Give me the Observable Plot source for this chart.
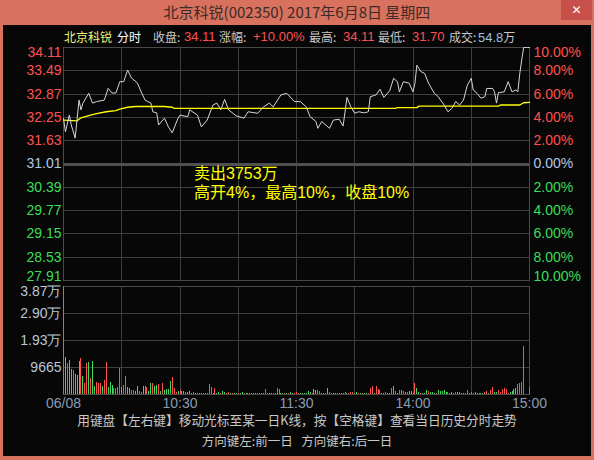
<!DOCTYPE html>
<html><head><meta charset="utf-8">
<script src="https://cdn.jsdelivr.net/npm/d3@7"></script>
<script src="https://cdn.jsdelivr.net/npm/@observablehq/plot@0.6"></script>
<style>
html,body{margin:0;padding:0;background:#d8715d;overflow:hidden}
#wrap{position:relative;width:594px;height:460px;background:#d8715d;overflow:hidden}
#black{position:absolute;left:3px;top:25px;width:588px;height:431px;background:#070707}
#charts svg{position:absolute;left:0;top:0}
.t{position:absolute;white-space:nowrap;line-height:16px;font-size:13px;font-family:"Liberation Sans","Noto Sans CJK SC",sans-serif}
.c{font-family:"Noto Sans CJK SC",sans-serif;font-size:12px}
.g{color:#c8c8c8}.r{color:#ff5050}
.a{font-family:"Liberation Sans","Noto Sans CJK SC",sans-serif;font-size:16px;line-height:19px;color:#ffff00;left:194px}
</style></head>
<body><div id="wrap">
<div id="black"></div>
<div id="charts"></div>
<div class="t c" style="left:0;width:594px;text-align:center;top:1px;font-size:15px;line-height:22px;color:#3b2a26">北京科锐(002350) 2017年6月8日 星期四</div>
<div class="t" style="left:561px;top:0;width:31px;height:20px;background:#c8504a;color:#fff;text-align:center;line-height:20px;font-family:'DejaVu Sans';font-size:12px">✕</div>
<div class="t c" style="left:64px;top:29px;color:#f0f07a">北京科锐</div>
<div class="t c" style="left:117px;top:29px;color:#ffffff">分时</div>
<div class="t c g" style="left:153px;top:29px">收盘:</div>
<div class="t r" style="left:184px;top:29px">34.11</div>
<div class="t c g" style="left:219px;top:29px">涨幅:</div>
<div class="t r" style="left:253px;top:29px">+10.00%</div>
<div class="t c g" style="left:309px;top:29px">最高:</div>
<div class="t r" style="left:343px;top:29px">34.11</div>
<div class="t c g" style="left:378px;top:29px">最低:</div>
<div class="t r" style="left:412px;top:29px">31.70</div>
<div class="t c g" style="left:449px;top:29px">成交:</div>
<div class="t" style="left:478px;top:29px;color:#9cc0e8">54.8<span class="c g">万</span></div>
<div class="t a" style="top:164px">卖出3753万</div>
<div class="t a" style="top:183px">高开4%，最高10%，收盘10%</div>
<div class="t c g" style="left:0;width:594px;text-align:center;top:412px;font-size:12.7px">用键盘【左右键】移动光标至某一日K线，按【空格键】查看当日历史分时走势</div>
<div class="t c g" style="left:0;width:594px;text-align:center;top:433px;font-size:12.5px">方向键左:前一日&nbsp;&nbsp;&nbsp;方向键右:后一日</div>
</div>
<script>
const prevClose = 31.01;
const priceTicks = [34.11,33.49,32.87,32.25,31.63,31.01,30.39,29.77,29.15,28.53,27.91];
const gridMinutes = [30,60,90,120,150,180,210];
const timeLabelMinutes = [0,60,120,180,240];
const timeLabels = ["06/08","10:30","11:30","14:00","15:00"];
const priceMinute = [0,1,3,4,6,8,9,10,13,15,17,21,23,25,27,29,31,33,35,38,40,42,45,46,48,49,52,54,56,59,60,64,65,69,71,74,77,79,81,83,85,89,93,95,100,103,106,108,112,115,119,122,125,127,130,131,133,137,139,142,144,146,148,150,152,155,157,158,161,163,165,168,170,172,173,175,178,180,181,182,184,186,188,191,193,196,198,200,202,204,206,208,210,211,213,215,217,218,221,222,223,224,227,229,231,233,234,235,236,237,238,239,240];
const price = [32.22,31.87,32.31,32.05,31.70,32.71,32.45,32.63,32.89,32.63,32.67,32.71,33.02,32.90,32.90,33.20,33.20,33.51,33.30,33.17,32.93,32.71,32.63,32.40,32.37,32.05,32.23,32.00,31.84,32.23,32.31,32.27,32.45,32.31,32.00,32.18,32.58,32.63,32.45,32.73,32.45,32.29,32.23,32.40,32.36,32.53,32.63,32.53,32.85,32.89,32.67,32.67,32.53,32.27,32.14,31.96,32.14,31.96,32.18,32.20,32.02,32.78,32.53,32.36,32.40,32.37,32.40,32.80,32.85,33.00,32.78,32.96,33.29,33.20,32.93,33.20,33.16,32.93,33.16,33.64,33.47,33.42,33.16,32.89,32.80,32.58,32.40,32.49,32.67,32.58,32.71,33.11,33.29,32.98,32.89,32.76,32.80,33.02,33.02,32.93,32.63,32.91,32.93,33.20,32.93,32.98,32.93,33.42,33.78,34.11,34.11,34.11,34.11];
const avgMinute = [0,7,9,13,17,22,27,29,33,37,52,56,57,171,172,182,183,224,225,235,237,240];
const avgPrice = [32.18,32.16,32.24,32.30,32.35,32.40,32.43,32.47,32.52,32.54,32.54,32.52,32.49,32.49,32.51,32.51,32.55,32.55,32.58,32.58,32.64,32.65];
const volume = [
38660,13200,11070,12260,9050,8570,7140,6660,11900,12850,
6540,3930,11070,11420,5710,11900,2975,4280,3930,3930,
2975,5000,11420,2500,4280,3330,2140,2140,2620,9280,
2500,3090,6420,2500,2140,1430,1430,1190,2860,1190,
830,2860,2860,2380,1070,3930,3930,2860,3210,3570,
1190,3930,1550,1670,1790,4640,6070,2140,710,950,
1430,1070,950,710,710,1200,400,800,300,300,
400,300,300,500,300,3580,2600,300,2140,300,
600,300,950,800,300,600,400,300,400,300,
300,300,600,300,200,300,200,300,200,300,
200,300,200,400,1790,500,300,200,300,200,
2260,1790,300,200,500,300,200,600,300,200,
700,400,300,500,300,200,950,800,300,1790,
1430,1430,950,400,400,300,2260,700,500,200,
300,200,200,300,200,700,300,500,700,700,
300,700,200,300,200,300,400,300,2260,2860,
500,2860,1790,1430,300,500,600,200,300,2260,
2860,1070,300,1430,1430,1070,700,700,1070,1070,
400,4050,2260,700,400,400,300,1430,1070,700,
700,400,300,1430,1070,1070,1430,700,700,300,
700,400,700,700,700,300,400,500,1430,300,
700,500,700,300,500,300,400,700,1070,300,
1300,2620,700,700,1430,700,1900,2260,1790,500,
700,1070,1900,2260,3450,3810,4400,17140,0,0,
2380];
const volDir = "rgrggrgggr"+"grrgrggrrr"+"grrgggrrrr"+"grrggrrggr"+"rgrrggrggr"+"grggggrrrg"+"rggrgggrgr"+"ggrgrrrgrg"+"grggrrgrgg"+"rggrgrggrg"+"rgrgrrggrg"+"rrggrgrggr"+"rrggggggrg"+"grrggrgrrg"+"grgrgrgrrr"+"ggrgrggrrr"+"grrrggrggr"+"grgrgrgrgg"+"grggrgggrg"+"ggrgggggrg"+"grrgrggrrg"+"grgrrggrrg"+"rrggrrrrrr"+"ggggrrrrrr"+"r";
const volTicks = [38660,28995,19330,9665];
const volTickLabels = ["3.87万","2.90万","1.93万","9665"];

const W = 594, H = 460, L = 63, R = 594 - 529;
const upC = "#ff5050", downC = "#3cdc5a", flatC = "#b0c8e4", gridC = "#3e3e3e", frameC = "#4a4a4a";
const numFont = '"Liberation Sans Narrow","Liberation Sans",sans-serif';

const priceData = priceMinute.map((t, i) => ({t, p: price[i]}));
const avgData = avgMinute.map((t, i) => ({t, p: avgPrice[i]}));
const volData = volume.map((v, i) => ({t: i, v, up: volDir[i] === "r"}));
const colorOf = p => Math.abs(p - prevClose) < 1e-6 ? flatC : (p > prevClose ? upC : downC);
const pct = p => (Math.abs(p - prevClose) / prevClose * 100).toFixed(2) + "%";

const innerTicks = priceTicks.slice(1, -1).filter(p => p !== prevClose);
const labelMarks = (data, lineAnchor) => [
  Plot.text(data, {y: d => d, text: d => d.toFixed(2), frameAnchor: "left", textAnchor: "end", dx: -2, lineAnchor, fill: colorOf, fontSize: 14}),
  Plot.text(data, {y: d => d, text: pct, frameAnchor: "right", textAnchor: "start", dx: 4, lineAnchor, fill: colorOf, fontSize: 14})
];

const pricePlot = Plot.plot({
  width: W, height: H,
  marginLeft: L, marginRight: R, marginTop: 47, marginBottom: H - 280,
  x: {domain: [0, 240], axis: null},
  y: {domain: [27.91, 34.11], axis: null},
  style: {background: "transparent", overflow: "visible", fontFamily: numFont, fontSize: "14px"},
  marks: [
    Plot.ruleY(innerTicks, {stroke: gridC, shapeRendering: "crispEdges"}),
    Plot.ruleX(gridMinutes, {stroke: gridC, shapeRendering: "crispEdges"}),
    Plot.ruleY([prevClose], {stroke: "#505050", strokeWidth: 3, shapeRendering: "crispEdges"}),
    Plot.frame({stroke: frameC, shapeRendering: "crispEdges"}),
    Plot.line(avgData, {x: "t", y: "p", stroke: "#ffff00", strokeWidth: 1.3}),
    Plot.line(priceData, {x: "t", y: "p", stroke: "#d6d6d6", strokeWidth: 1}),
    ...labelMarks(priceTicks.slice(0, 1), "top"),
    ...labelMarks(priceTicks.slice(1, -1), "middle"),
    ...labelMarks(priceTicks.slice(-1), "bottom")
  ]
});

const volPlot = Plot.plot({
  width: W, height: H,
  marginLeft: L, marginRight: R, marginTop: 286, marginBottom: H - 394,
  x: {domain: [0, 240], axis: null},
  y: {domain: [0, 38660], axis: null},
  style: {background: "transparent", overflow: "visible", fontFamily: numFont, fontSize: "14px"},
  marks: [
    Plot.ruleY(volTicks.slice(1), {stroke: gridC, shapeRendering: "crispEdges"}),
    Plot.ruleX(gridMinutes, {stroke: gridC, shapeRendering: "crispEdges"}),
    Plot.frame({stroke: frameC, shapeRendering: "crispEdges"}),
    Plot.ruleX(volData, {x: "t", y1: 0, y2: "v", stroke: d => d.up ? upC : downC, strokeWidth: 1, shapeRendering: "crispEdges"}),
    Plot.text(volTicks.slice(0, 1), {y: d => d, text: (d, i) => volTickLabels[i], frameAnchor: "left", textAnchor: "end", dx: -2, lineAnchor: "top", fill: "#b8c6d6", fontSize: 14}),
    Plot.text(volTicks.slice(1), {y: d => d, text: (d, i) => volTickLabels[i + 1], frameAnchor: "left", textAnchor: "end", dx: -2, lineAnchor: "middle", fill: "#b8c6d6", fontSize: 14}),
    Plot.text(timeLabelMinutes, {x: d => d, text: (d, i) => timeLabels[i], frameAnchor: "bottom", lineAnchor: "middle", dy: 9, fill: "#8a9cb4", fontSize: 14})
  ]
});

const charts = document.getElementById("charts");
charts.appendChild(pricePlot);
charts.appendChild(volPlot);
</script>
</body></html>
